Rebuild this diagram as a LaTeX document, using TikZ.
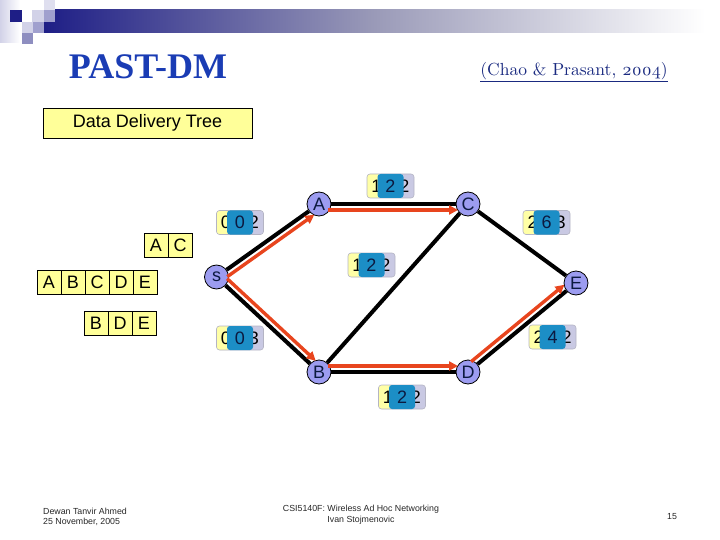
\documentclass[tikz,border=0pt]{standalone}
\usepackage{fontspec}
\setmainfont{Liberation Sans}
\newfontfamily\titlefont{Liberation Serif}
\newfontfamily\citefont{lmroman10-regular}[Extension=.otf, Numbers=OldStyle]
\usetikzlibrary{calc,arrows.meta}
\definecolor{navy}{HTML}{1E1E86}
\definecolor{barmid}{HTML}{9A9AB8}
\definecolor{sqlight}{HTML}{D2D2E8}
\definecolor{sqmid}{HTML}{A0A0CE}
\definecolor{sqdark}{HTML}{8E8EC0}
\definecolor{titleblue}{HTML}{1A3CB4}
\definecolor{citeblue}{HTML}{1A2A80}
\definecolor{cellyellow}{HTML}{FFFF99}
\definecolor{nodefill}{HTML}{9C9CF0}
\definecolor{redline}{HTML}{E8451E}
\definecolor{labyellow}{HTML}{FFFFA6}
\definecolor{lablav}{HTML}{C9C9E3}
\definecolor{labblue}{HTML}{1C8EC6}
\definecolor{labborder}{HTML}{B4B4C4}
\definecolor{digitdark}{HTML}{0C1A40}
\tikzset{
  vert/.style={circle, draw=black, line width=0.8pt, fill=nodefill, minimum size=24pt, inner sep=0pt, font=\fontsize{18}{18}\selectfont, text=digitdark},
  cell/.style={draw=black, line width=0.8pt, fill=cellyellow, minimum width=24pt, minimum height=24pt, inner sep=0pt, font=\fontsize{18}{18}\selectfont},
  edgeline/.style={line width=4pt, black},
  redarrow/.style={line width=3.4pt, redline, -{Triangle[length=9pt,width=9pt]}},
  labbox/.style={draw=labborder, line width=0.6pt, fill=lablav, rounded corners=3pt, minimum width=47pt, minimum height=24pt, inner sep=0pt,
    path picture={\fill[labyellow] (path picture bounding box.south west) rectangle ([xshift=14pt]path picture bounding box.north west);}},
  labtxt/.style={inner sep=0pt, font=\fontsize{18}{18}\selectfont},
  labmid/.style={fill=labblue, rounded corners=3pt, minimum width=26pt, minimum height=24pt, inner sep=0pt, font=\fontsize{18}{18}\selectfont, text=digitdark},
  foot/.style={inner sep=0pt, font=\fontsize{8.8}{10}\selectfont, text=black!85},
}
\newcommand\edgelabel[6]{%
  \node[labbox] (#1) at (#2,#3) {};
  \node[labtxt] (#1-l) at ([xshift=-14pt]#1.center) {#4};
  \node[labtxt] (#1-r) at ([xshift=14pt]#1.center) {#6};
  \node[labmid] (#1-m) at (#1.center) {#5};
}
\begin{document}
\begin{tikzpicture}[x=1pt, y=-1pt]
\useasboundingbox (0,0) rectangle (720,540);
% header decoration
\shade[left color=sqlight, right color=white] (0,0) rectangle (20,43);
\shade[left color=navy, right color=white, middle color=barmid] (44,10) rectangle (705,33);
\fill[navy] (10,10) rectangle (22,22);
\fill[sqlight] (32,10) rectangle (44,22);
\fill[sqmid] (44,10) rectangle (55,22);
\fill[sqlight!70] (44,0) rectangle (55,10);
\fill[sqlight] (22,22) rectangle (33,33);
\fill[sqmid] (33,22) rectangle (44,33);
\fill[sqdark] (22,33) rectangle (33,44);
% titles
\node[inner sep=0pt, text=titleblue, font=\titlefont\bfseries\fontsize{36}{36}\selectfont] (title) at (148,67) {PAST-DM};
\node[inner sep=0pt, text=citeblue, font=\citefont\fontsize{17.5}{18}\selectfont] (cite) at (574,72) {\underline{(Chao \& Prasant, 2004)}};
\node[draw=black, line width=0.8pt, fill=cellyellow, minimum width=209pt, minimum height=30pt, inner sep=0pt, font=\fontsize{18}{18}\selectfont] (ddt) at (147.5,123) {Data Delivery Tree};
% cells
\node[cell] (ac1) at (156,245) {A};
\node[cell] (ac2) at (180,245) {C};
\node[cell] (t1) at (49,282.5) {A};
\node[cell] (t2) at (73,282.5) {B};
\node[cell] (t3) at (97,282.5) {C};
\node[cell] (t4) at (121,282.5) {D};
\node[cell] (t5) at (145,282.5) {E};
\node[cell] (b1) at (96,323.5) {B};
\node[cell] (b2) at (120,323.5) {D};
\node[cell] (b3) at (144,323.5) {E};
% vertices
\node[vert] (s) at (216.5,277) {s};
\node[vert] (A) at (319,204) {A};
\node[vert] (B) at (319,372) {B};
\node[vert] (C) at (468,204) {C};
\node[vert] (D) at (468,372) {D};
\node[vert] (E) at (576,283) {E};
% black edges
\draw[edgeline] (s) -- (A);
\draw[edgeline] (s) -- (B);
\draw[edgeline] (A) -- (C);
\draw[edgeline] (B) -- (C);
\draw[edgeline] (C) -- (E);
\draw[edgeline] (B) -- (D);
\draw[edgeline] (D) -- (E);
% red arrows
\draw[redarrow, shorten <=9pt, shorten >=10pt] ($(s)!6pt!-90:(A)$) -- ($(A)!6pt!90:(s)$);
\draw[redarrow, shorten <=9pt, shorten >=10pt] ($(s)!6pt!90:(B)$) -- ($(B)!6pt!-90:(s)$);
\draw[redarrow, shorten <=9pt, shorten >=10pt] ($(A)!6pt!-90:(C)$) -- ($(C)!6pt!90:(A)$);
\draw[redarrow, shorten <=9pt, shorten >=10pt] ($(B)!6pt!90:(D)$) -- ($(D)!6pt!-90:(B)$);
\draw[redarrow, shorten <=9pt, shorten >=10pt] ($(D)!6pt!90:(E)$) -- ($(E)!6pt!-90:(D)$);
% edge labels
\edgelabel{lsa}{240}{222.5}{0}{0}{2}
\edgelabel{lac}{390.5}{186}{1}{2}{2}
\edgelabel{lmid}{371.5}{265}{1}{2}{2}
\edgelabel{lsb}{240}{338}{0}{0}{3}
\edgelabel{lbd}{402}{397}{1}{2}{2}
\edgelabel{lce}{546.5}{222.5}{2}{6}{3}
\edgelabel{lde}{552.5}{337}{2}{4}{2}
% footer
\node[foot, anchor=west] (f1) at (43,511) {Dewan Tanvir Ahmed};
\node[foot, anchor=west] (f2) at (43,521.5) {25 November, 2005};
\node[foot] (f3) at (361,509) {CSI5140F: Wireless Ad Hoc Networking};
\node[foot] (f4) at (361,520) {Ivan Stojmenovic};
\node[foot] (f5) at (672,517) {15};
\end{tikzpicture}
\end{document}
